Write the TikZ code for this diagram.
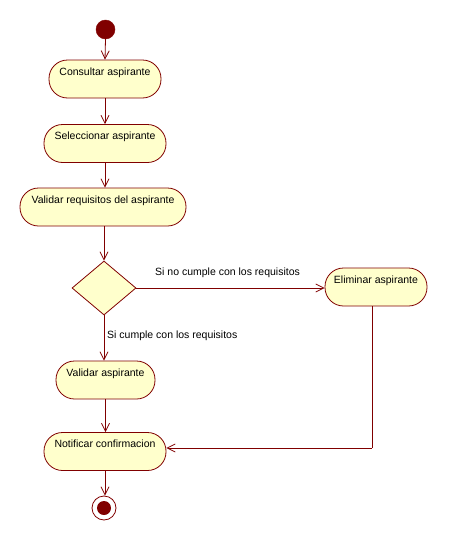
\documentclass[tikz,border=0pt]{standalone}
\usepackage{fontspec}
\setmainfont{Liberation Sans}
\usetikzlibrary{arrows.meta,shapes.geometric}
\definecolor{umlline}{HTML}{800000}
\definecolor{umlfill}{HTML}{FFFFCC}
\begin{document}
\begin{tikzpicture}[x=1pt,y=-1pt,
  every node/.style={font=\fontsize{10.5}{12}\selectfont},
  act/.style={draw=umlline,fill=umlfill,line width=0.8pt,rectangle,rounded corners=18.5pt,
     minimum height=38pt,inner ysep=0pt,inner xsep=4pt,text height=15pt,text depth=23pt},
  dec/.style={draw=umlline,fill=umlfill,line width=0.8pt,diamond,inner sep=0pt,
     minimum width=64pt,minimum height=54pt},
  flow/.style={draw=umlline,line width=0.8pt,-{Straight Barb[length=8pt,width=8pt,line width=0.8pt]}},
  line/.style={draw=umlline,line width=0.8pt},
  guard/.style={anchor=west,inner sep=0pt}]
\useasboundingbox (0,0) rectangle (448,541);
\node[circle,fill=umlline,draw=umlline,minimum size=19pt,inner sep=0pt] (start) at (105.5,29.5) {};
\node[act,minimum width=112pt] (cons) at (105,79) {Consultar aspirante};
\node[act,minimum width=122pt] (sel) at (105,143.5) {Seleccionar aspirante};
\node[act,minimum width=166pt] (valreq) at (103,207) {Validar requisitos del aspirante};
\node[dec] (dec) at (104,288) {};
\node[act,minimum width=102pt] (elim) at (376,287) {Eliminar aspirante};
\node[act,minimum width=99pt] (valasp) at (105.5,380) {Validar aspirante};
\node[act,minimum width=122pt] (notif) at (105,451.5) {Notificar confirmacion};
\node[circle,draw=umlline,line width=0.8pt,minimum size=24pt,inner sep=0pt] (end) at (104,508) {};
\node[circle,fill=umlline,minimum size=14pt,inner sep=0pt] (endin) at (end.center) {};
\coordinate (bend) at (372,448);
\draw[flow] (start.south) -- (cons.north);
\draw[flow] (cons.south) -- (sel.north);
\draw[flow] (sel.south) -- (sel.south |- valreq.north);
\draw[flow] (valreq.south -| dec.north) -- (dec.north);
\draw[flow] (dec.east) -- (dec.east -| elim.west);
\draw[flow] (dec.south) -- (dec.south |- valasp.north);
\draw[flow] (valasp.south) -- (valasp.south |- notif.north);
\draw[flow] (notif.south) -- (notif.south |- end.north);
\draw[line] (bend |- elim.south) -- (bend);
\draw[flow] (bend) -- (bend -| notif.east);
\node[guard] (g1) at (155,273) {Si no cumple con los requisitos};
\node[guard] (g2) at (107,336) {Si cumple con los requisitos};
\end{tikzpicture}
\end{document}
